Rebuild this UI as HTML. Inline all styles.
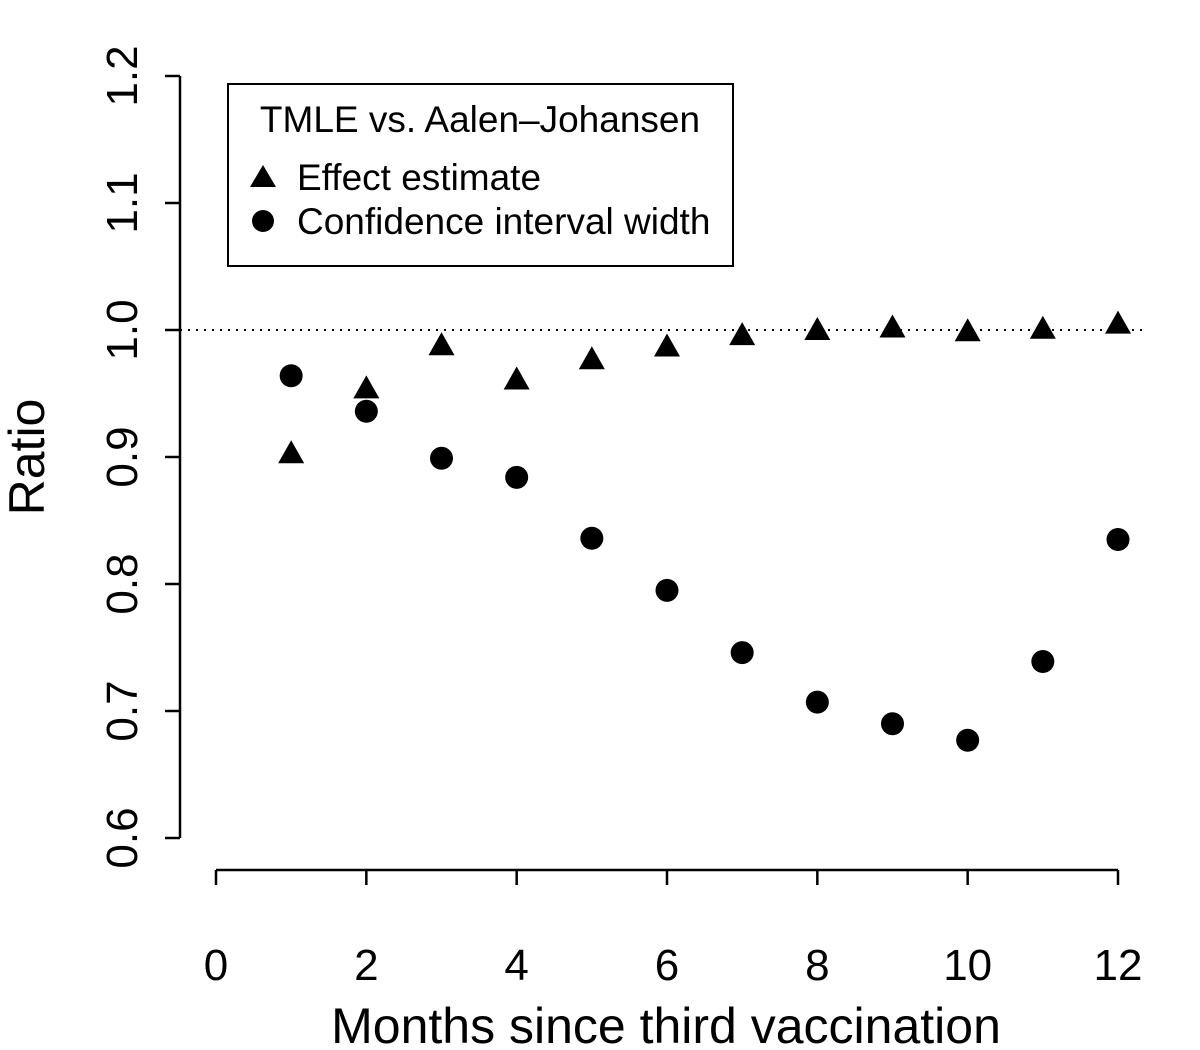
<!DOCTYPE html>
<html><head><meta charset="utf-8"><style>
html,body{margin:0;padding:0;background:#fff;}
svg{display:block;font-family:"Liberation Sans",Arial,sans-serif;}
</style></head><body>
<svg id="chart" width="1200" height="1050" viewBox="0 0 1200 1050">
<g id="axes"></g>
<g id="marks"></g>
<g>
<rect x="228" y="84" width="505" height="182" fill="#fff" stroke="#000" stroke-width="2"/>
<text x="480" y="132" font-size="37" text-anchor="middle">TMLE vs. Aalen–Johansen</text>
<polygon points="263,165 276,187 250,187" fill="#000"/>
<text x="297" y="190" font-size="37">Effect estimate</text>
<circle cx="263" cy="221" r="11" fill="#000"/>
<text x="297" y="234" font-size="37">Confidence interval width</text>
</g>
<text x="666" y="1043" font-size="50" text-anchor="middle">Months since third vaccination</text>
<text transform="translate(44,457) rotate(-90)" font-size="50" text-anchor="middle">Ratio</text>
</svg>
<script>
const months = [1,2,3,4,5,6,7,8,9,10,11,12];
const effectEstimate = [0.903,0.954,0.988,0.961,0.977,0.987,0.996,1.000,1.002,0.999,1.001,1.005];
const ciWidth = [0.964,0.936,0.899,0.884,0.836,0.795,0.746,0.707,0.690,0.677,0.739,0.835];
const xTicks = [0,2,4,6,8,10,12];
const yTicks = [0.6,0.7,0.8,0.9,1.0,1.1,1.2];
const yTickLabels = ["0.6","0.7","0.8","0.9","1.0","1.1","1.2"];

const NS="http://www.w3.org/2000/svg";
const xs = v => 216 + v*(1118-216)/12;
const ys = v => 330 - (v-1.0)*1270;
function mk(tag, attrs, parent){const e=document.createElementNS(NS,tag);for(const k in attrs)e.setAttribute(k,attrs[k]);parent.appendChild(e);return e;}
const axes=document.getElementById('axes'), marks=document.getElementById('marks');

let l=mk('line',{x1:180,y1:ys(0.6),x2:180,y2:ys(1.2),stroke:'#000','stroke-width':2.5},axes);


yTicks.forEach((v,i)=>{
  let t=mk('line',{x1:165,y1:ys(v),x2:180,y2:ys(v),stroke:'#000','stroke-width':2.5},axes);
  
  
  let tx=mk('text',{transform:`translate(137,${ys(v)}) rotate(-90)`,'font-size':44,'text-anchor':'middle'},axes);
  tx.textContent=yTickLabels[i];
  
  
});
l=mk('line',{x1:xs(0),y1:870,x2:xs(12),y2:870,stroke:'#000','stroke-width':2.5},axes);


xTicks.forEach(v=>{
  let t=mk('line',{x1:xs(v),y1:870,x2:xs(v),y2:885,stroke:'#000','stroke-width':2.5},axes);
  
  
  let tx=mk('text',{x:xs(v),y:980,'font-size':44,'text-anchor':'middle'},axes);
  tx.textContent=String(v);
  
  
});
l=mk('line',{x1:180,y1:ys(1.0),x2:1148,y2:ys(1.0),stroke:'#000','stroke-width':2,'stroke-dasharray':'2,6'},axes);



months.forEach((m,i)=>{
  const cx=xs(m), cy=ys(effectEstimate[i]);
  let p=mk('polygon',{points:`${cx},${cy-13} ${cx+13},${cy+10} ${cx-13},${cy+10}`,fill:'#000'},marks);
  
  
  let c=mk('circle',{cx:cx,cy:ys(ciWidth[i]),r:11.5,fill:'#000'},marks);
  
  
});
</script>
</body></html>
